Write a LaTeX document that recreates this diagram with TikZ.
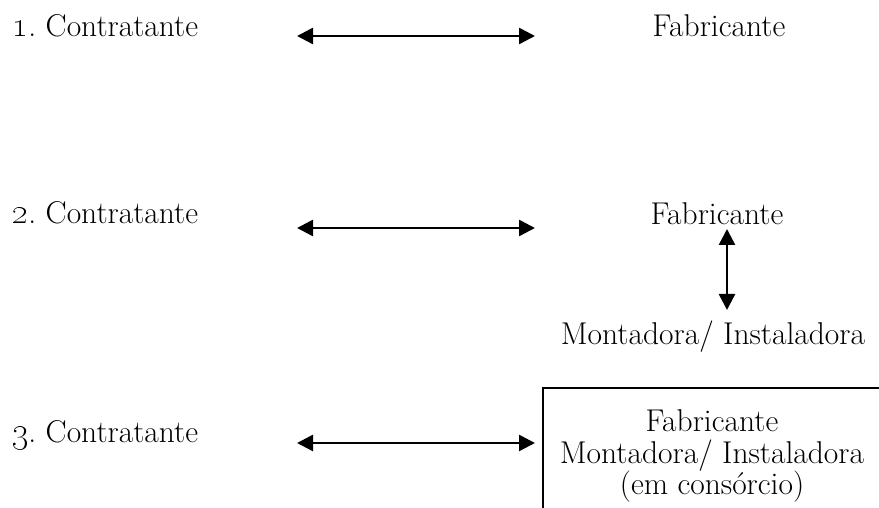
\documentclass[tikz,border=0pt]{standalone}
\usetikzlibrary{arrows.meta}
\newcommand{\osn}[1]{\scalebox{1.2}{\oldstylenums{#1}}}
\begin{document}
\begin{tikzpicture}[x=1pt,y=1pt,
  lbl/.style={inner sep=0pt,font=\fontsize{31.5}{34}\selectfont},
  conn/.style={line width=2.5pt,{Triangle[length=16pt,width=16pt]}-{Triangle[length=16pt,width=16pt]}},
  boxline/.style={line width=2.8pt}]
\useasboundingbox (0,0) rectangle (879,508);
% row 1
\node[lbl,anchor=base west] (c1) at (12,471) {\osn{1}.\ Contratante};
\node[lbl,anchor=base] (f1) at (719,471) {Fabricante};
\coordinate (a1l) at (297,472);
\coordinate (a1r) at (535,472);
\draw[conn] (a1l) -- (a1r);
% row 2
\node[lbl,anchor=base west] (c2) at (12,284) {\osn{2}.\ Contratante};
\node[lbl,anchor=base] (f2) at (717,283) {Fabricante};
\node[lbl,anchor=base] (m2) at (713,163) {Montadora/ Instaladora};
\coordinate (a2l) at (297,280);
\coordinate (a2r) at (535,280);
\draw[conn] (a2l) -- (a2r);
\coordinate (v2t) at (727,279);
\coordinate (v2b) at (727,198);
\draw[conn] (v2t) -- (v2b);
% row 3
\node[lbl,anchor=base west] (c3) at (12,65) {\osn{3}.\ Contratante};
\coordinate (a3l) at (297,65);
\coordinate (a3r) at (535,65);
\draw[conn] (a3l) -- (a3r);
\draw[boxline] (543,-2) -- (543,120) -- (881,120);
\node[lbl,anchor=base] (b1) at (712,76) {Fabricante};
\node[lbl,anchor=base] (b2) at (712,44) {Montadora/ Instaladora};
\node[lbl,anchor=base] (b3) at (712,13) {(em consórcio)};
\end{tikzpicture}
\end{document}
